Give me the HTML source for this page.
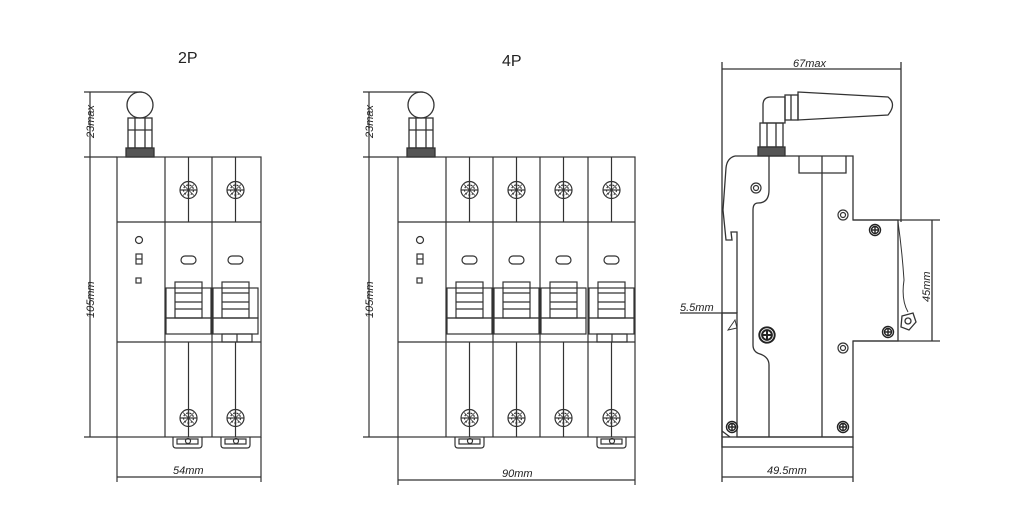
<!DOCTYPE html>
<html><head><meta charset="utf-8"><style>
html,body{margin:0;padding:0;background:#fff;}
svg{display:block;}
text{font-family:"Liberation Sans",sans-serif;fill:#222;}
.d{font-style:italic;font-size:11px;}
</style></head><body>
<svg width="1010" height="529" viewBox="0 0 1010 529" xmlns="http://www.w3.org/2000/svg">
<defs>
<g id="sc" fill="none" stroke="#333" stroke-width="1.2">
<circle r="8.5"/><circle r="5" stroke-dasharray="2 1.5"/>
<line x1="-8" y1="0" x2="8" y2="0"/><line x1="0" y1="-8" x2="0" y2="8"/>
<line x1="-5.5" y1="-5.5" x2="5.5" y2="5.5" stroke-width="0.8"/><line x1="-5.5" y1="5.5" x2="5.5" y2="-5.5" stroke-width="0.8"/>
</g>
<g id="ring" fill="none" stroke="#333" stroke-width="1.2"><circle r="5"/><circle r="2.5"/></g>
<g id="cr" fill="none" stroke="#222" stroke-width="1.4"><circle r="5.5"/><circle r="3.5"/><line x1="-3.5" y1="0" x2="3.5" y2="0"/><line x1="0" y1="-3.5" x2="0" y2="3.5"/></g>
<g id="col" fill="none" stroke="#333" stroke-width="1.2">
<line x1="23.5" y1="157" x2="23.5" y2="222"/>
<line x1="23.5" y1="342" x2="23.5" y2="437"/>
<use href="#sc" x="23.5" y="190"/>
<use href="#sc" x="23.5" y="418"/>
<rect x="16" y="256" width="15" height="8" rx="4"/>
<rect x="1" y="288" width="45" height="30"/>
<rect x="10" y="282" width="27" height="36"/>
<line x1="10" y1="293" x2="37" y2="293"/>
<line x1="10" y1="302" x2="37" y2="302"/>
<line x1="10" y1="309" x2="37" y2="309"/>
<rect x="1" y="318" width="45" height="16"/>
</g>
<g id="tab" fill="none" stroke="#333" stroke-width="1.2">
<path d="M-15 437 V445 Q-15 448 -12 448 H11 Q14 448 14 445 V437"/>
<rect x="-11" y="439" width="21" height="5"/><circle cx="0" cy="441" r="2.5"/>
</g>
<g id="ant" fill="none" stroke="#333" stroke-width="1.3">
<circle cx="0" cy="105" r="13"/>
<rect x="-12" y="118" width="24" height="30"/>
<line x1="-5" y1="118" x2="-5" y2="148"/><line x1="5" y1="118" x2="5" y2="148"/>
<line x1="-12" y1="130" x2="12" y2="130"/>
<rect x="-14" y="148" width="28" height="9" fill="#555"/>
</g>
</defs>

<text x="178" y="63" font-size="16">2P</text>
<text x="502" y="66" font-size="16">4P</text>

<!-- 2P -->
<g fill="none" stroke="#333" stroke-width="1.2">
<rect x="117" y="157" width="144" height="280"/>
<line x1="165" y1="157" x2="165" y2="437"/>
<line x1="212" y1="157" x2="212" y2="437"/>
<line x1="117" y1="222" x2="261" y2="222"/>
<line x1="117" y1="342" x2="261" y2="342"/>
<circle cx="139" cy="240" r="3.5"/>
<rect x="136" y="254" width="6" height="10"/><line x1="136" y1="259" x2="142" y2="259"/>
<rect x="136" y="278" width="5" height="5"/>
<line x1="90" y1="92" x2="90" y2="437"/>
<line x1="84" y1="92" x2="142" y2="92"/>
<line x1="84" y1="157" x2="117" y2="157"/>
<line x1="84" y1="437" x2="117" y2="437"/>
<line x1="117" y1="437" x2="117" y2="482"/>
<line x1="261" y1="437" x2="261" y2="482"/>
<line x1="117" y1="477" x2="261" y2="477"/>
<rect x="222" y="334" width="30" height="8"/><line x1="237" y1="334" x2="237" y2="342"/>
</g>
<use href="#col" x="165"/><use href="#col" x="212"/>
<use href="#tab" x="188"/><use href="#tab" x="236"/>
<use href="#ant" x="140"/>
<text class="d" transform="translate(94,138) rotate(-90)">23max</text>
<text class="d" transform="translate(94,318) rotate(-90)">105mm</text>
<text class="d" x="173" y="474">54mm</text>

<!-- 4P -->
<g fill="none" stroke="#333" stroke-width="1.2">
<rect x="398" y="157" width="237" height="280"/>
<line x1="446" y1="157" x2="446" y2="437"/>
<line x1="493" y1="157" x2="493" y2="437"/>
<line x1="540" y1="157" x2="540" y2="437"/>
<line x1="588" y1="157" x2="588" y2="437"/>
<line x1="398" y1="222" x2="635" y2="222"/>
<line x1="398" y1="342" x2="635" y2="342"/>
<circle cx="420" cy="240" r="3.5"/>
<rect x="417" y="254" width="6" height="10"/><line x1="417" y1="259" x2="423" y2="259"/>
<rect x="417" y="278" width="5" height="5"/>
<line x1="369" y1="92" x2="369" y2="437"/>
<line x1="363" y1="92" x2="423" y2="92"/>
<line x1="363" y1="157" x2="398" y2="157"/>
<line x1="363" y1="437" x2="398" y2="437"/>
<line x1="398" y1="437" x2="398" y2="485"/>
<line x1="635" y1="437" x2="635" y2="485"/>
<line x1="398" y1="480" x2="635" y2="480"/>
<rect x="597" y="334" width="30" height="8"/><line x1="612" y1="334" x2="612" y2="342"/>
</g>
<use href="#col" x="446"/><use href="#col" x="493"/><use href="#col" x="540"/><use href="#col" x="588"/>
<use href="#tab" x="470"/><use href="#tab" x="612"/>
<use href="#ant" x="421"/>
<text class="d" transform="translate(373,138) rotate(-90)">23max</text>
<text class="d" transform="translate(373,318) rotate(-90)">105mm</text>
<text class="d" x="502" y="477">90mm</text>

<!-- Side view -->
<g fill="none" stroke="#333" stroke-width="1.3">
<line x1="722" y1="62" x2="722" y2="482"/>
<line x1="901" y1="62" x2="901" y2="222"/>
<line x1="722" y1="69" x2="901" y2="69"/>
<path d="M735 156 H853 V220 H898 V341 H853 V437 H737 V313 H722 V437"/>
<path d="M735 156 Q727 158 726 168 L723 210 L726 240 L732 240 L731 232 H737 V313"/>
<rect x="722" y="437" width="131" height="10"/>
<line x1="722" y1="431" x2="730" y2="437"/>
<path d="M769 156 V190 Q769 203 758 203 Q753 203 753 210 V345 Q753 352 760 354 Q769 357 769 365 V437"/>
<line x1="822" y1="156" x2="822" y2="437"/>
<path d="M799 156 V173 H846 V156"/>
<path d="M728 330 L735 320 L737 328 Z" stroke-width="0.9"/>
<path d="M898 222 Q902 250 904 280 Q901 300 908 312" stroke-width="1"/>
<path d="M902 316 L913 313 L916 322 L909 330 L901 327 Z"/><circle cx="908" cy="321" r="3"/>
<line x1="853" y1="220" x2="940" y2="220"/>
<line x1="853" y1="341" x2="940" y2="341"/>
<line x1="932" y1="220" x2="932" y2="341"/>
<line x1="680" y1="313" x2="737" y2="313"/>
<line x1="722" y1="477" x2="853" y2="477"/>
<line x1="853" y1="447" x2="853" y2="482"/>
<rect x="760" y="123" width="23" height="24"/>
<line x1="767" y1="123" x2="767" y2="147"/><line x1="776" y1="123" x2="776" y2="147"/>
<rect x="758" y="147" width="27" height="9" fill="#555"/>
<path d="M763 123 V105 Q763 97 771 97 H785 V123 Z"/>
<rect x="785" y="95" width="13" height="25"/><line x1="791" y1="95" x2="791" y2="120"/>
<path d="M798 92 L888 97 Q897 104 888 115 L798 120 Z"/>
</g>
<use href="#ring" x="756" y="188"/>
<use href="#ring" x="843" y="215"/>
<use href="#cr" x="875" y="230"/>
<g transform="translate(767,335) scale(1.4)"><use href="#cr"/></g>
<use href="#ring" x="843" y="348"/>
<use href="#cr" x="888" y="332"/>
<use href="#cr" x="732" y="427"/>
<use href="#cr" x="843" y="427"/>
<text class="d" x="793" y="67">67max</text>
<text class="d" x="680" y="311">5.5mm</text>
<text class="d" x="767" y="474">49.5mm</text>
<text class="d" transform="translate(930,302) rotate(-90)">45mm</text>
</svg>
</body></html>
